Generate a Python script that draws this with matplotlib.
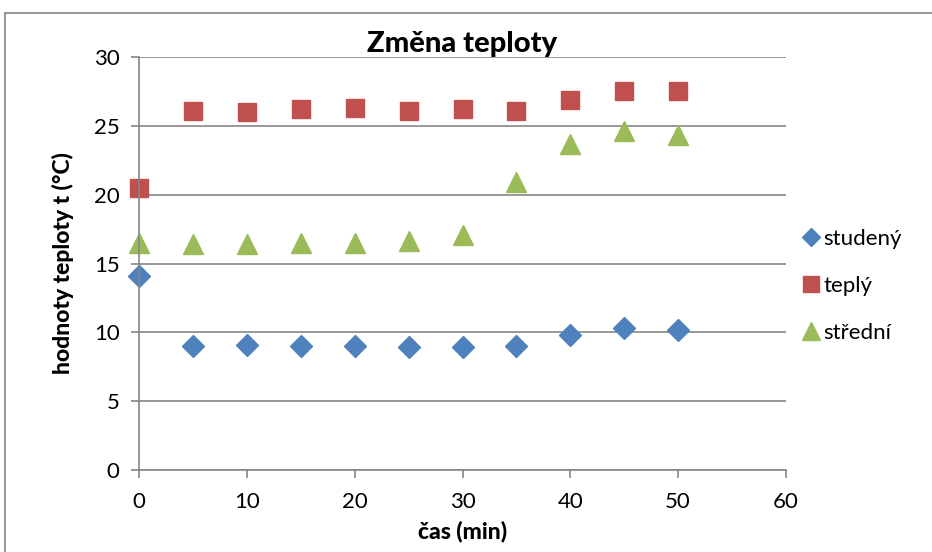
import matplotlib.pyplot as plt
from matplotlib.lines import Line2D

# data
cas = [0, 5, 10, 15, 20, 25, 30, 35, 40, 45, 50]
studeny = [14.1, 9.0, 9.1, 9.0, 9.0, 8.9, 8.9, 9.0, 9.8, 10.3, 10.2]
teply = [20.5, 26.1, 26.0, 26.2, 26.3, 26.1, 26.2, 26.1, 26.9, 27.5, 27.5]
stredni = [16.5, 16.4, 16.4, 16.5, 16.5, 16.6, 17.1, 20.9, 23.7, 24.6, 24.3]

x_ticks = [0, 10, 20, 30, 40, 50, 60]
y_ticks = [0, 5, 10, 15, 20, 25, 30]

plt.rcParams['font.family'] = ['Lato', 'DejaVu Sans']

fig = plt.figure(figsize=(9.32, 5.52), dpi=100)
ax = fig.add_axes([139 / 932, 82 / 552, 647 / 932, 413 / 552])

seda = '#868686'
ax.set_xlim(0, 60)
ax.set_ylim(0, 30)
ax.set_xticks(x_ticks)
ax.set_yticks(y_ticks)
ax.grid(axis='y', color=seda, linewidth=1.2)
ax.set_axisbelow(True)
for s in ['top', 'right']:
    ax.spines[s].set_visible(False)
for s in ['left', 'bottom']:
    ax.spines[s].set_color(seda)
    ax.spines[s].set_linewidth(1.2)
ax.tick_params(colors=seda, labelcolor='black', labelsize=16, length=6, width=1.2)
ax.tick_params(axis='x', pad=10)
ax.tick_params(axis='y', pad=8)

ax.plot(cas, studeny, 'D', color='#4F81BD', markersize=11, clip_on=False, label='studený')
ax.plot(cas, teply, 's', color='#C0504D', markersize=13.5, clip_on=False, label='teplý')
ax.plot(cas, stredni, '^', color='#9BBB59', markersize=15, clip_on=False, label='střední')

ax.set_title('Změna teploty', fontsize=21, fontweight='black', pad=2)
ax.set_xlabel('čas (min)', fontsize=16.5, fontweight='black', labelpad=6)
ax.set_ylabel('hodnoty teploty t (°C)', fontsize=16.5, fontweight='black', labelpad=14)

fig.legend(loc='center left', bbox_to_anchor=(780 / 932, 0.482), frameon=False,
           fontsize=16, handletextpad=0.05, labelspacing=1.2, handlelength=1.0,
           markerscale=0.85)

# outer chart border
fig.add_artist(Line2D([5 / 932, 5 / 932], [0, 1 - 13 / 552], color=seda, linewidth=1.2))
fig.add_artist(Line2D([5 / 932, 1], [1 - 13 / 552, 1 - 13 / 552], color=seda, linewidth=1.2))

fig.savefig('out.png', dpi=100)
